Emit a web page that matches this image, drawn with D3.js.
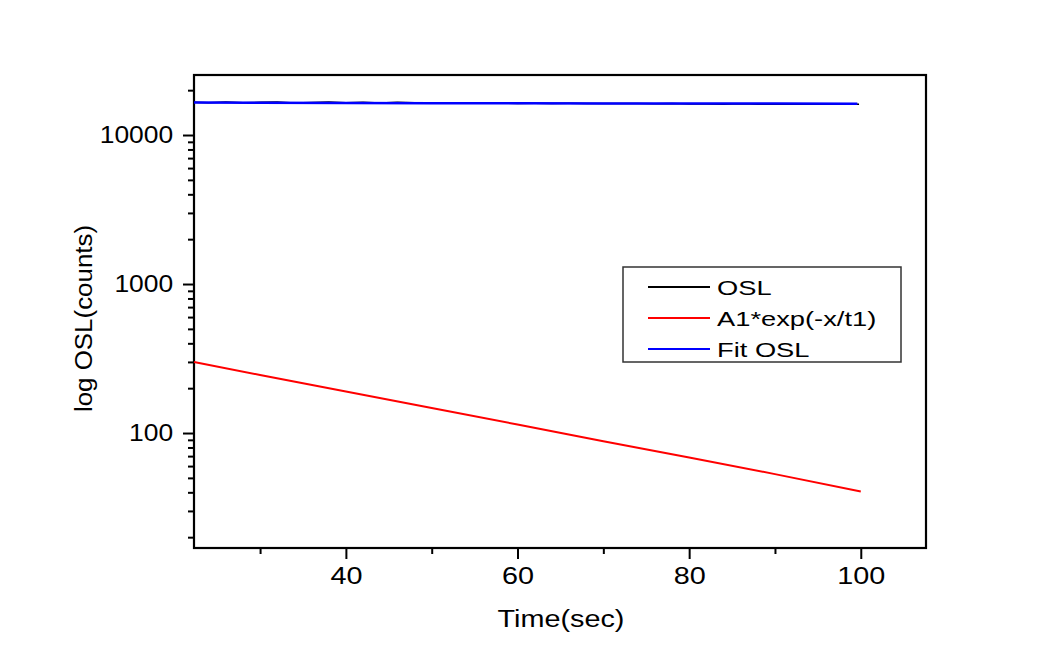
<!DOCTYPE html>
<html>
<head>
<meta charset="utf-8">
<script src="https://cdn.jsdelivr.net/npm/d3@7"></script>
<style>
  body { margin: 0; background: #fff; }
  text { font-family: Arial, "Liberation Sans", sans-serif; fill: #000; }
</style>
</head>
<body>
<script>
// Data
const oslTime = [22.3, 24, 26, 28, 30, 32, 34, 36, 38, 40, 42, 44, 46, 48, 50, 52, 54, 56, 58, 60,
  62, 64, 66, 68, 70, 72, 74, 76, 78, 80, 82, 84, 86, 88, 90, 92, 94, 96, 98, 99.8]
const oslCounts = [16600, 16480, 16640, 16450, 16590, 16660, 16420, 16560, 16650, 16450, 16620, 16380, 16560, 16470, 16330, 16410, 16350, 16320, 16380, 16300,
  16330, 16270, 16310, 16280, 16300, 16250, 16280, 16240, 16260, 16120, 16180, 16090, 16200, 16100, 16150, 16060, 16170, 16090, 16130, 16080]
const fitTime = [22.3, 30, 40, 50, 60, 70, 80, 90, 100]
const expCounts = [300, 245, 190, 147, 114, 88, 68.5, 53, 40.5]
const fitCounts = [16500, 16445, 16390, 16347, 16314, 16288, 16268, 16253, 16240]
const xMajor = [40, 60, 80, 100]
const xMinor = [30, 50, 70, 90]
const yMajor = [100, 1000, 10000]
const legendLabels = ['OSL', 'A1*exp(-x/t1)', 'Fit OSL']
const legendColors = ['#000', '#ff0000', '#0000ff']

// Size
const margin = { top: 75, right: 130, bottom: 103, left: 194 }
const width = 1056 - margin.left - margin.right
const height = 651 - margin.top - margin.bottom

const svg = d3.select('body').append('svg')
    .attr('width', 1056)
    .attr('height', 651)
  .append('g')
    .attr('transform', `translate(${margin.left},${margin.top})`)

// Scales
const xScale = d3.scaleLinear()
    .domain([22.3, 107.6])
    .range([0, width])

const yScale = d3.scaleLog()
    .domain([16.92, 25280])
    .range([height, 0])

const yMinor = yScale.ticks().filter(d => !yMajor.includes(d))

// Axes
svg.append('g')
    .attr('transform', `translate(0,${height})`)
    .call(d3.axisBottom(xScale).tickValues(xMinor).tickSize(6).tickFormat(''))
    .call(g => g.select('.domain').remove())

svg.append('g')
    .attr('class', 'x axis')
    .attr('transform', `translate(0,${height})`)
    .call(d3.axisBottom(xScale).tickValues(xMajor).tickSize(11).tickPadding(8))
    .call(g => g.select('.domain').remove())
    .selectAll('text')
      .style('font-size', '24px')
      .attr('transform', 'scale(1.2,1)')

svg.append('g')
    .call(d3.axisLeft(yScale).tickValues(yMinor).tickSize(6).tickFormat(''))
    .call(g => g.select('.domain').remove())

svg.append('g')
    .attr('class', 'y axis')
    .call(d3.axisLeft(yScale).tickValues(yMajor).tickSize(11).tickPadding(8).tickFormat(d3.format('d')))
    .call(g => g.select('.domain').remove())
    .selectAll('text')
      .style('font-size', '24px')
      .attr('transform', 'scale(1.1,1)')

svg.selectAll('.tick line').attr('stroke', '#000').attr('stroke-width', 2)

// Frame
svg.append('rect')
    .attr('width', width)
    .attr('height', height)
    .attr('fill', 'none')
    .attr('stroke', '#000')
    .attr('stroke-width', 2.2)

// Lines
const line = (xs) => d3.line()
    .x((d, i) => xScale(xs[i]))
    .y(d => yScale(d))

svg.append('path')
    .datum(oslCounts)
    .attr('d', line(oslTime))
    .attr('fill', 'none')
    .attr('stroke', '#000')
    .attr('stroke-width', 1.5)

svg.append('path')
    .datum(expCounts)
    .attr('d', line(fitTime))
    .attr('fill', 'none')
    .attr('stroke', '#ff0000')
    .attr('stroke-width', 2)

svg.append('path')
    .datum(fitCounts)
    .attr('d', line(fitTime.map((d, i) => i === fitTime.length - 1 ? 99.6 : d)))
    .attr('fill', 'none')
    .attr('stroke', '#0000ff')
    .attr('stroke-width', 2.5)

// Axis titles
svg.append('text')
    .attr('transform', `translate(${561 - margin.left},${627 - margin.top}) scale(1.2,1)`)
    .attr('text-anchor', 'middle')
    .style('font-size', '24px')
    .text('Time(sec)')

svg.append('text')
    .attr('transform', `translate(${92 - margin.left},${318.5 - margin.top}) rotate(-90) scale(1.08,1)`)
    .attr('text-anchor', 'middle')
    .style('font-size', '24px')
    .text('log OSL(counts)')

// Legend
const legend = svg.append('g')
    .attr('transform', `translate(${623 - margin.left},${267 - margin.top})`)

legend.append('rect')
    .attr('width', 278)
    .attr('height', 95)
    .attr('fill', '#fff')
    .attr('stroke', '#333')
    .attr('stroke-width', 1.5)

legendLabels.forEach((label, i) => {
  const y = 20 + i * 31
  legend.append('line')
      .attr('x1', 25).attr('x2', 87)
      .attr('y1', y).attr('y2', y)
      .attr('stroke', legendColors[i])
      .attr('stroke-width', 2)
  legend.append('text')
      .attr('transform', `translate(94,${y + 7.5}) scale(1.3,1)`)
      .style('font-size', '21px')
      .text(label)
})
</script>
</body>
</html>
